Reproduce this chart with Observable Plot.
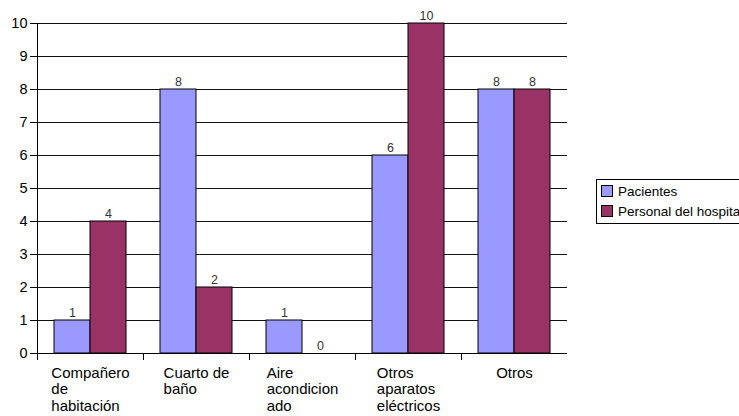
<!DOCTYPE html>
<html><head><meta charset="utf-8">
<script src="https://cdn.jsdelivr.net/npm/d3@7"></script>
<script src="https://cdn.jsdelivr.net/npm/@observablehq/plot@0.6"></script>
<style>
body{margin:0;background:#fff;}
#wrap{position:relative;width:739px;height:416px;overflow:hidden;font-family:"Liberation Sans",Arial,sans-serif;background:#fff;}
#wrap svg{position:absolute;left:0;top:0;}
#legend{position:absolute;left:596px;top:179px;border:1px solid #000;background:#fff;padding:1px 12px 2px 4px;font-size:13.5px;white-space:nowrap;color:#000;}
.item{display:flex;align-items:center;height:20px;}
.sw{width:10px;height:10px;border:1px solid #000;margin-right:5px;}
</style></head><body><div id="wrap"></div>
<script>
const categories = ["Compañero\nde\nhabitación", "Cuarto de\nbaño", "Aire\nacondicion\nado", "Otros\naparatos\neléctricos", "Otros"];
const series = ["Pacientes", "Personal del hospital"];
const pacientes = [1, 8, 1, 6, 8];
const personal = [4, 2, 0, 10, 8];
const yTicks = [0, 1, 2, 3, 4, 5, 6, 7, 8, 9, 10];
const colors = ["#9999FF", "#993366"];

const data = categories.flatMap((c, i) => [
  {category: c, series: series[0], value: pacientes[i]},
  {category: c, series: series[1], value: personal[i]}
]);

const width = 739, height = 416, mL = 37, mR = 172;
const padOuter = 0.47;
const step = (width - mL - mR) / categories.length;
const xStep = step / (series.length + 2 * padOuter);

const chart = Plot.plot({
  width, height,
  marginLeft: mL, marginRight: mR, marginTop: 23, marginBottom: 63,
  style: {fontFamily: "'Liberation Sans', Arial, sans-serif", fontSize: "14px", color: "#000", background: "#fff", overflow: "visible"},
  fx: {domain: categories, padding: 0, label: null, axis: null},
  x: {domain: series, paddingInner: 0, paddingOuter: padOuter, axis: null},
  y: {domain: [0, 10], label: null, axis: null},
  color: {domain: series, range: colors},
  marks: [
    Plot.ruleY(yTicks.filter(d => d > 0), {stroke: "#111", strokeWidth: 1}),
    Plot.barY(data, {fx: "category", x: "series", y: "value", fill: "series", stroke: "#000", strokeWidth: 1}),
    Plot.text(data, {fx: "category", x: "series", y: "value", text: d => String(d.value), lineAnchor: "bottom", dy: -4, fill: "#333", fontSize: 12.5}),
    Plot.ruleY([0], {stroke: "#000"}),
    // y-axis line at the left edge of the first category
    Plot.ruleX([{c: categories[0], s: series[0]}], {fx: "c", x: "s", y1: 0, y2: 10, stroke: "#000", dx: -(padOuter + 0.5) * xStep}),
    Plot.axisY({ticks: yTicks, tickSize: 7, tickPadding: 3, fontSize: 14.5, label: null, tickFormat: d => String(d)}),
    Plot.axisFx({anchor: "bottom", tickSize: 0, tickPadding: 13, label: null, fontSize: 15, lineHeight: 1.09}),
    Plot.axisFx({anchor: "bottom", tickSize: 7, tickFormat: () => "", label: null, dx: -step / 2})
  ]
});

const wrap = document.getElementById("wrap");
wrap.appendChild(chart);

// left-align multi-line category labels inside a centered block
d3.select(chart).selectAll("g[aria-label='fx-axis tick label'] text").each(function () {
  const tspans = d3.select(this).selectAll("tspan");
  let maxW = 0;
  if (tspans.size()) {
    tspans.each(function () { maxW = Math.max(maxW, this.getComputedTextLength()); });
    d3.select(this).attr("text-anchor", "start");
    tspans.attr("x", -maxW / 2);
  }
});

const legend = document.createElement("div");
legend.id = "legend";
series.forEach((s, i) => {
  const item = document.createElement("div");
  item.className = "item";
  const sw = document.createElement("div");
  sw.className = "sw";
  sw.style.background = colors[i];
  const t = document.createElement("span");
  t.textContent = s;
  item.appendChild(sw); item.appendChild(t);
  legend.appendChild(item);
});
wrap.appendChild(legend);
</script></body></html>
